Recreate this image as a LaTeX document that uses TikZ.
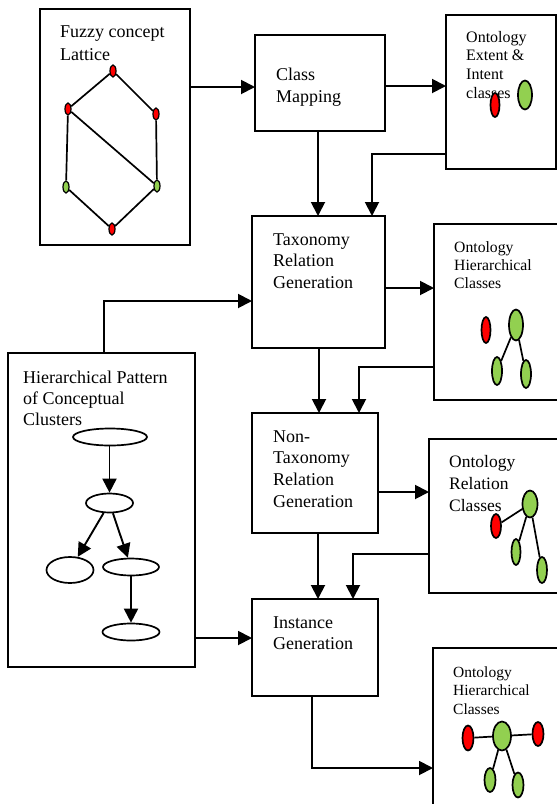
\documentclass[tikz,border=0pt]{standalone}
\usepackage{fontspec}
\setmainfont{Liberation Serif}
\usetikzlibrary{arrows.meta,shapes.geometric}
\definecolor{lred}{RGB}{255,0,0}
\definecolor{lgreen}{RGB}{146,208,80}
\begin{document}
\begin{tikzpicture}[x=1pt,y=-1pt,
  box/.style={draw, line width=2pt, anchor=north west, outer sep=0pt, inner sep=0pt, rectangle},
  txt/.style={anchor=north west, inner sep=0pt, align=left},
  arr/.style={line width=1.9pt, -{Triangle[length=14pt,width=14pt]}},
  ln/.style={line width=1.7pt},
  dot/.style={ellipse, draw, line width=1.2pt, inner sep=0pt, minimum width=6pt, minimum height=12pt},
  ov/.style={ellipse, draw, line width=1.7pt, inner sep=0pt},
  rd/.style={ov, fill=lred},
  gr/.style={ov, fill=lgreen},
  big/.style={font=\fontsize{18}{22}\selectfont}
]
\clip (0,0) rectangle (557,804);
\fill[white] (0,0) rectangle (557,804);

% level coordinates
\coordinate (ky87) at (0,87);
\coordinate (ky86) at (0,86);
\coordinate (ky154) at (0,154);
\coordinate (ky288) at (0,288);
\coordinate (ky367) at (0,367);
\coordinate (ky492) at (0,492);
\coordinate (ky554) at (0,554);
\coordinate (ky768) at (0,768);
\coordinate (ky301) at (0,301);
\coordinate (ky638) at (0,638);
\coordinate (kx318) at (318,0);
\coordinate (kx319) at (319,0);
\coordinate (kx372) at (372,0);
\coordinate (kx359) at (359,0);
\coordinate (kx353) at (353,0);
\coordinate (kx312) at (312,0);
\coordinate (kx104) at (104,0);

% boxes
\node[box, minimum width=150pt, minimum height=236pt] (fuzzy) at (40,9) {};
\node[box, minimum width=130pt, minimum height=96pt] (cm) at (255,35) {};
\node[box, minimum width=110pt, minimum height=154pt] (ext) at (446,15) {};
\node[box, minimum width=133pt, minimum height=132pt] (tax) at (252,216) {};
\node[box, minimum width=140pt, minimum height=176pt] (hierA) at (434,224) {};
\node[box, minimum width=126pt, minimum height=120pt] (nontax) at (252,413) {};
\node[box, minimum width=140pt, minimum height=154pt] (rel) at (429,439) {};
\node[box, minimum width=126pt, minimum height=97pt] (inst) at (252,599) {};
\node[box, minimum width=140pt, minimum height=170pt] (hierB) at (433,648) {};
\node[box, minimum width=187pt, minimum height=314pt] (hp) at (8,353) {};

% texts
\node[txt, font=\fontsize{18}{23}\selectfont] (tfuzzy) at (60,20.9) {\strut Fuzzy concept\\Lattice};
\node[txt, big] (tcm) at (276,64.6) {\strut Class\\Mapping};
\node[txt, font=\fontsize{18}{21.6}\selectfont] (ttax) at (273,229.9) {\strut Taxonomy\\Relation\\Generation};
\node[txt, font=\fontsize{18}{21.7}\selectfont] (tnontax) at (273,426.8) {\strut Non-\\Taxonomy\\Relation\\Generation};
\node[txt, font=\fontsize{18}{21}\selectfont] (tinst) at (273,613.3) {\strut Instance\\Generation};
\node[txt, font=\fontsize{18}{21}\selectfont] (thp) at (23,368.3) {\strut Hierarchical Pattern\\of Conceptual\\Clusters};
\node[txt, font=\fontsize{16}{18.7}\selectfont] (text) at (466,28.9) {\strut Ontology\\Extent \&\\Intent\\classes};
\node[txt, font=\fontsize{15.7}{18}\selectfont] (thierA) at (454,239.4) {\strut Ontology\\Hierarchical\\Classes};
\node[txt, font=\fontsize{17.5}{22}\selectfont] (trel) at (449,451.6) {\strut Ontology\\Relation\\Classes};
\node[txt, font=\fontsize{15.5}{18.5}\selectfont] (thierB) at (453,664) {\strut Ontology\\Hierarchical\\Classes};

% lattice
\node[dot, fill=lred] (l1) at (113,71) {};
\node[dot, fill=lred] (l2) at (68,109) {};
\node[dot, fill=lred] (l3) at (156,114) {};
\node[dot, fill=lgreen] (l4) at (66,187) {};
\node[dot, fill=lgreen] (l5) at (157,186) {};
\node[dot, fill=lred] (l6) at (112,229) {};
\draw[ln] (l1) -- (l2);
\draw[ln] (l1) -- (l3);
\draw[ln] (l2) -- (l4);
\draw[ln] (l3) -- (l5);
\draw[ln] (l2) -- (l5);
\draw[ln] (l4) -- (l6);
\draw[ln] (l5) -- (l6);

% hierarchical pattern
\node[ov, minimum width=74pt, minimum height=17pt] (e1) at (110,437) {};
\node[ov, minimum width=47pt, minimum height=19pt] (e2) at (109.5,503) {};
\node[ov, minimum width=47pt, minimum height=26pt] (e3) at (70,570) {};
\node[ov, minimum width=56pt, minimum height=17pt] (e4) at (131,567) {};
\node[ov, minimum width=57pt, minimum height=17pt] (e5) at (131,632) {};
\draw[arr] (e1.south -| e2.north) -- (e2.north);
\draw[arr] (e2) -- (e3);
\draw[arr] (e2) -- (e4);
\draw[arr] (e4) -- (e5);

% ontology extent & intent
\node[rd, minimum width=9pt, minimum height=24pt] (x1) at (495,105) {};
\node[gr, minimum width=14pt, minimum height=29pt] (x2) at (525,95) {};

% ontology hierarchical (A)
\node[rd, minimum width=9pt, minimum height=26pt] (a1) at (486,330) {};
\node[gr, minimum width=14pt, minimum height=31pt] (a2) at (516,325) {};
\node[gr, minimum width=10pt, minimum height=28pt] (a3) at (497,371) {};
\node[gr, minimum width=10pt, minimum height=28pt] (a4) at (526,374) {};
\draw[ln] (a2) -- (a3);
\draw[ln] (a2) -- (a4);

% ontology relation
\node[rd, minimum width=10pt, minimum height=24pt] (r1) at (496,526) {};
\node[gr, minimum width=15pt, minimum height=27pt] (r2) at (530,504) {};
\node[gr, minimum width=9pt, minimum height=26pt] (r3) at (516,552) {};
\node[gr, minimum width=10pt, minimum height=26pt] (r4) at (542,570) {};
\draw[ln] (r1) -- (r2);
\draw[ln] (r2) -- (r3);
\draw[ln] (r2) -- (r4);

% ontology hierarchical (B)
\node[rd, minimum width=11pt, minimum height=25pt] (b1) at (468,738) {};
\node[gr, minimum width=18pt, minimum height=29pt] (b2) at (502,736) {};
\node[rd, minimum width=11pt, minimum height=24pt] (b3) at (538,734) {};
\node[gr, minimum width=11pt, minimum height=24pt] (b4) at (490,780) {};
\node[gr, minimum width=11pt, minimum height=25pt] (b5) at (518,785) {};
\draw[ln] (b1) -- (b2);
\draw[ln] (b2) -- (b3);
\draw[ln] (b2) -- (b4);
\draw[ln] (b2) -- (b5);

% connectors
\draw[arr] (fuzzy.east |- ky87) -- (cm.west |- ky87);
\draw[arr] (cm.east |- ky86) -- (ext.west |- ky86);
\draw[arr] (cm.south -| kx318) -- (tax.north -| kx318);
\draw[arr] (ext.west |- ky154) -| (tax.north -| kx372);
\draw[arr] (tax.east |- ky288) -- (hierA.west |- ky288);
\draw[arr] (tax.south -| kx319) -- (nontax.north -| kx319);
\draw[arr] (hierA.west |- ky367) -| (nontax.north -| kx359);
\draw[arr] (nontax.east |- ky492) -- (rel.west |- ky492);
\draw[arr] (nontax.south -| kx318) -- (inst.north -| kx318);
\draw[arr] (rel.west |- ky554) -| (inst.north -| kx353);
\draw[arr] (inst.south -| kx312) |- (hierB.west |- ky768);
\draw[arr] (hp.north -| kx104) |- (tax.west |- ky301);
\draw[arr] (hp.east |- ky638) -- (inst.west |- ky638);
\end{tikzpicture}
\end{document}
